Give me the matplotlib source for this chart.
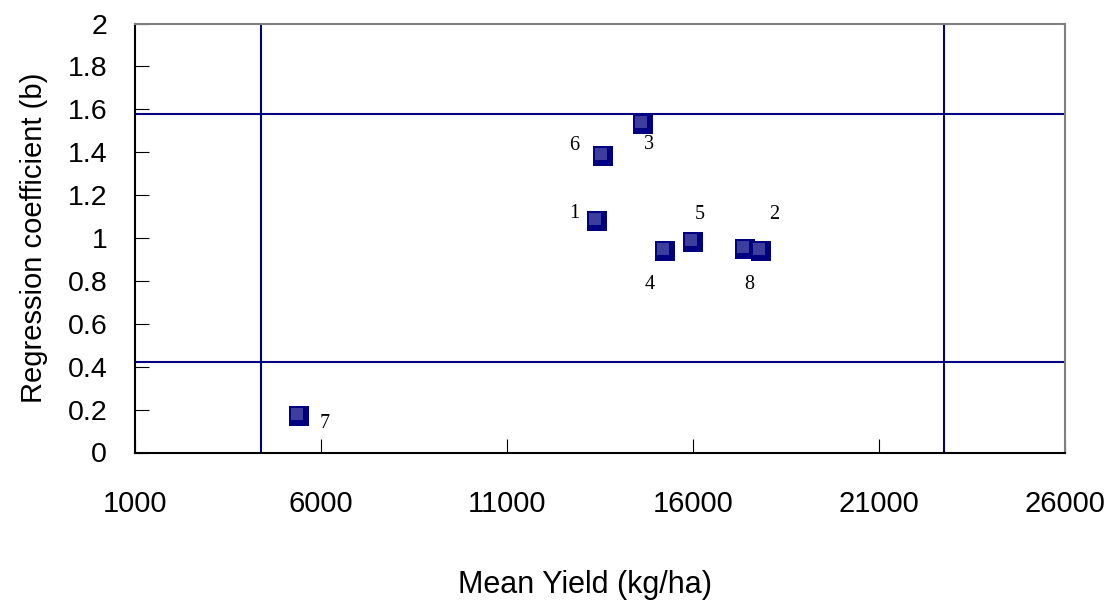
import matplotlib
matplotlib.use("Agg")
import matplotlib.pyplot as plt
from matplotlib.transforms import offset_copy

# genotype numbers, mean yield (kg/ha) and regression coefficient b
genotypes = ["1", "2", "3", "4", "5", "6", "7", "8"]
mean_yield = [13420, 17840, 14660, 15260, 16010, 13580, 5410, 17410]
reg_coef = [1.08, 0.94, 1.53, 0.94, 0.98, 1.38, 0.17, 0.95]

# reference lines
yield_lines = [4390, 22750]
b_lines = [1.58, 0.42]

# label offsets in pixels (dx, dy)
label_off = [(-23, 7), (13, 36), (6, -20), (-16, -34),
             (6, 28), (-29, 11), (26, -7), (4, -36)]

plt.rcParams['font.family'] = ['Liberation Sans', 'DejaVu Sans']

fig = plt.figure(figsize=(11.06, 6.03), dpi=100)
ax = fig.add_axes([135 / 1106, 1 - 452.5 / 603, 930 / 1106, 429 / 603])

navy = "#000080"
for x in yield_lines:
    ax.axvline(x, color=navy, lw=1.5, zorder=1)
for y in b_lines:
    ax.axhline(y, color=navy, lw=1.5, zorder=1)

ax.plot(mean_yield, reg_coef, linestyle="none", marker="s", ms=13.7,
        mfc=navy, mec=navy, mew=0, zorder=3)
# lighter face shifted up-left gives the 3d look
hl = offset_copy(ax.transData, fig=fig, x=-2, y=2, units="dots")
ax.plot(mean_yield, reg_coef, linestyle="none", marker="s", ms=9.0,
        mfc="#3d3d9e", mec="#3d3d9e", mew=0, zorder=4, transform=hl)

for g, x, y, (dx, dy) in zip(genotypes, mean_yield, reg_coef, label_off):
    ax.annotate(g, (x, y), xytext=(dx, dy), textcoords="offset pixels",
                ha="center", va="center", fontsize=14.5,
                family="Liberation Serif")

ax.set_xlim(1000, 26000)
ax.set_ylim(0, 2)
ax.set_xticks([1000, 6000, 11000, 16000, 21000, 26000])
ax.set_yticks([0, 0.2, 0.4, 0.6, 0.8, 1, 1.2, 1.4, 1.6, 1.8, 2])
ax.set_yticklabels(["0", "0.2", "0.4", "0.6", "0.8", "1", "1.2", "1.4",
                    "1.6", "1.8", "2"])
ax.tick_params(axis="x", direction="in", length=10, pad=27, labelsize=21)
ax.tick_params(axis="y", direction="in", length=10, pad=20, labelsize=20.5)

for s in ["left", "bottom"]:
    ax.spines[s].set_color("black")
    ax.spines[s].set_linewidth(1.5)
for s in ["top", "right"]:
    ax.spines[s].set_color("#808080")
    ax.spines[s].set_linewidth(1.5)

ax.set_xlabel("Mean Yield (kg/ha)", fontsize=22)
ax.xaxis.set_label_coords((585 - 135) / 930, -(585 - 452.5) / 429)
ax.xaxis.label.set_va("center")
ax.set_ylabel("Regression coefficient (b)", fontsize=21, labelpad=14)

fig.savefig("out.png", dpi=100)
